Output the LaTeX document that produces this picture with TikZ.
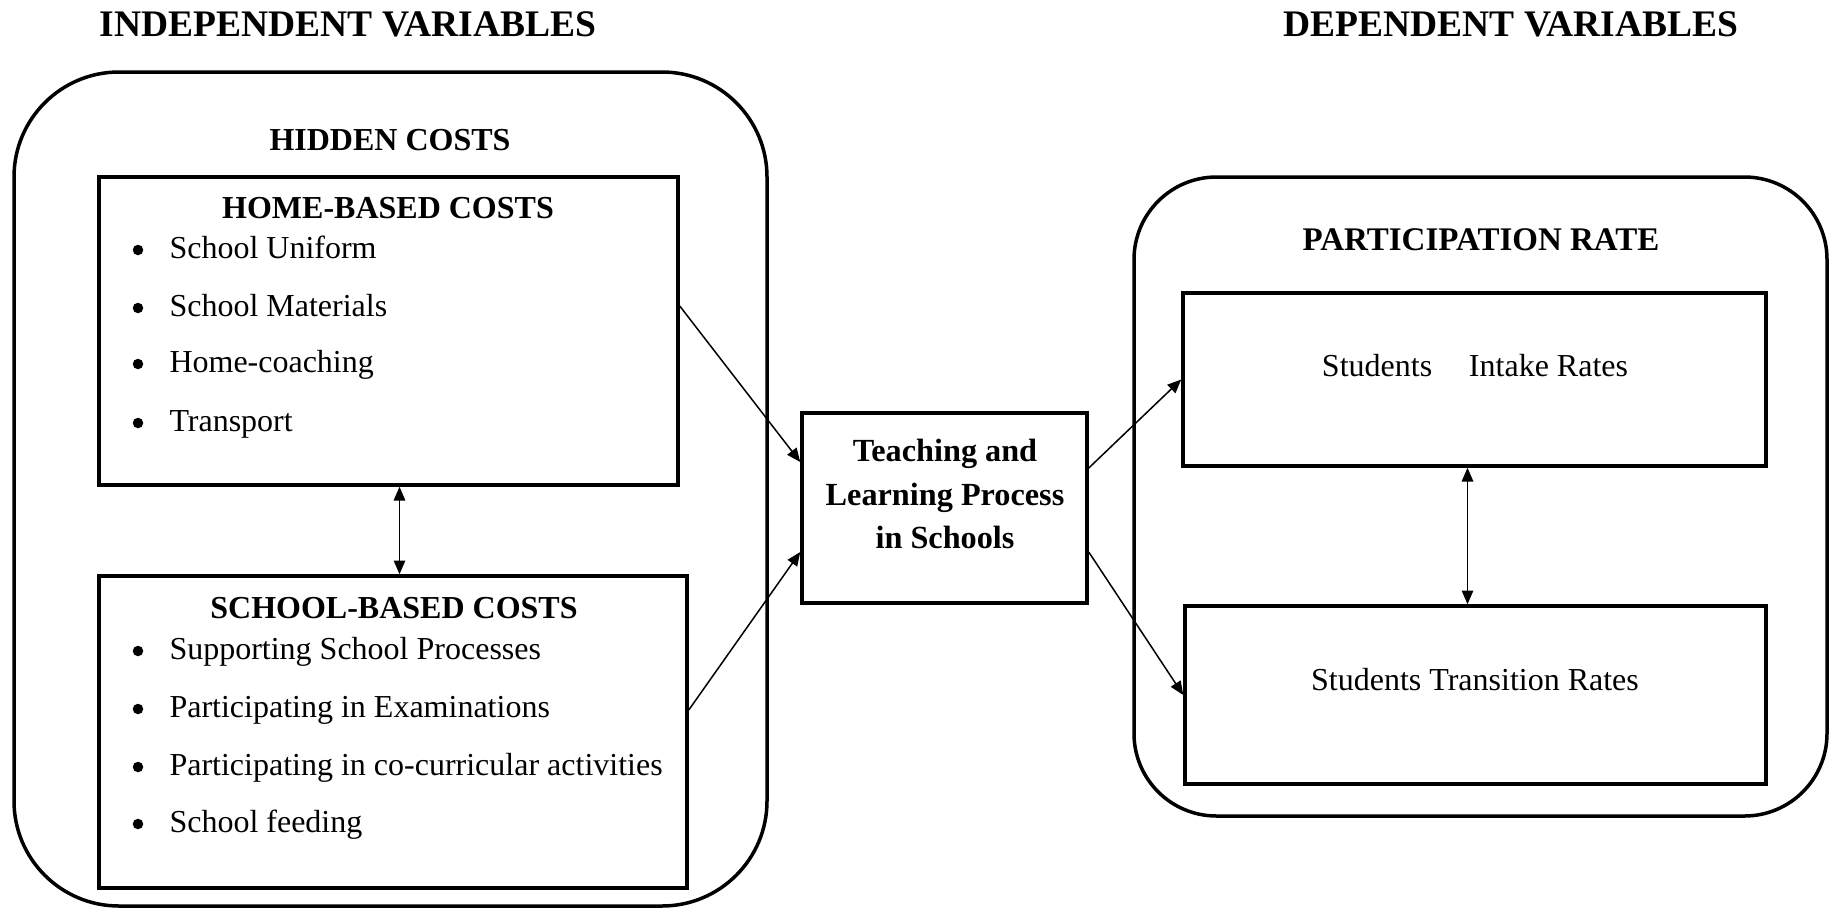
\documentclass[tikz,border=0pt]{standalone}
\usepackage{fontspec}
\setmainfont{Liberation Serif}
\usetikzlibrary{arrows.meta,calc,fit}
\begin{document}
\begin{tikzpicture}[x=0.4pt,y=-0.4pt,
  thickbox/.style={draw, line width=1.4pt, inner sep=0pt},
  conn/.style={line width=0.6pt, -{Triangle[length=5.5pt,width=4.6pt]}},
  dbl/.style={line width=0.6pt, {Triangle[length=5.5pt,width=4.6pt]}-{Triangle[length=5.5pt,width=4.6pt]}},
  head/.style={font=\bfseries\fontsize{15}{18}\selectfont},
  sub/.style={font=\bfseries\fontsize{12.8}{15}\selectfont},
  item/.style={font=\fontsize{12.8}{15}\selectfont, anchor=base west, inner sep=0pt},
  bul/.style={circle, fill, inner sep=0pt, minimum size=4.2pt},
]
\useasboundingbox (0,0) rectangle (1833,908);
% headings
\node[head] (indep) at (348,24) {INDEPENDENT VARIABLES};
\node[head] (dep) at (1511,24) {DEPENDENT VARIABLES};
% outer rounded boxes
\draw[line width=1.4pt, rounded corners=42pt] (14,72) rectangle (767,906);
\draw[line width=1.4pt, rounded corners=33pt] (1134,177) rectangle (1827,816);
\node[sub] (hidden) at (390,140) {HIDDEN COSTS};
\node[sub, font=\bfseries\fontsize{13.2}{15}\selectfont] (partic) at (1481,240) {PARTICIPATION RATE};
% home box
\coordinate (h1) at (99,177); \coordinate (h2) at (678,485);
\node[thickbox, fit=(h1)(h2)] (home) {};
\node[sub] (hometitle) at (388,208) {HOME-BASED COSTS};
\node[bul] (hb1) at (138,250) {}; \node[item] (hi1) at (169,258) {School Uniform};
\node[bul] (hb2) at (138,308) {}; \node[item] (hi2) at (169,316) {School Materials};
\node[bul] (hb3) at (138,364) {}; \node[item] (hi3) at (169,372) {Home-coaching};
\node[bul] (hb4) at (138,423) {}; \node[item] (hi4) at (169,431) {Transport};
% school box
\coordinate (s1) at (99,576); \coordinate (s2) at (687,888);
\node[thickbox, fit=(s1)(s2)] (school) {};
\node[sub] (schooltitle) at (394,608) {SCHOOL-BASED COSTS};
\node[bul] (sb1) at (138,651) {}; \node[item] (si1) at (169,659) {Supporting School Processes};
\node[bul] (sb2) at (138,709) {}; \node[item] (si2) at (169,717) {Participating in Examinations};
\node[bul] (sb3) at (138,767) {}; \node[item] (si3) at (169,775) {Participating in co-curricular activities};
\node[bul] (sb4) at (138,824) {}; \node[item] (si4) at (169,832) {School feeding};
% teaching box
\coordinate (t1) at (802,413); \coordinate (t2) at (1087,603);
\node[thickbox, fit=(t1)(t2)] (teach) {};
\node[font=\bfseries\fontsize{12.9}{17.5}\selectfont, align=center] (teachtext) at (945,494) {Teaching and\\Learning Process\\in Schools};
% right boxes
\coordinate (i1) at (1183,293); \coordinate (i2) at (1766,466);
\node[thickbox, fit=(i1)(i2)] (intake) {};
\node[font=\fontsize{12.8}{15}\selectfont] (intaketext) at (1475,366) {Students\hspace{1.15em}Intake Rates};
\coordinate (r1) at (1185,606); \coordinate (r2) at (1766,784);
\node[thickbox, fit=(r1)(r2)] (trans) {};
\node[font=\fontsize{12.8}{15}\selectfont] (transtext) at (1475,680) {Students Transition Rates};
% connectors
\draw[conn] ($(home.east)+(0,-25)$) -- ($(teach.west)+(0,-46)$);
\draw[conn] ($(school.east)+(0,-22)$) -- ($(teach.west)+(0,44)$);
\draw[conn] ($(teach.east)+(0,-40)$) -- (intake.west);
\draw[conn] ($(teach.east)+(0,44)$) -- (trans.west);
\coordinate (hs) at ($(home.south)+(11,0)$);
\draw[dbl] (hs) -- (hs |- school.north);
\coordinate (is) at ($(intake.south)+(-7,0)$);
\draw[dbl] (is) -- (is |- trans.north);
\end{tikzpicture}
\end{document}
